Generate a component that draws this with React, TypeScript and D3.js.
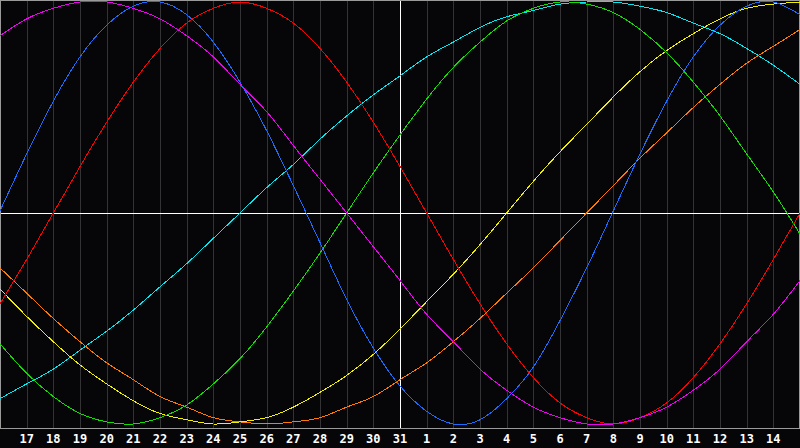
import React, { useEffect, useRef } from 'react';
import * as d3 from 'd3';

// days shown, from the 16th to the 15th of next month (today = 31)
const dayLabels = [
  '16', '17', '18', '19', '20', '21', '22', '23', '24', '25', '26', '27', '28', '29', '30', '31',
  '1', '2', '3', '4', '5', '6', '7', '8', '9', '10', '11', '12', '13', '14', '15',
];
const todayIndex = 15;

// values per day, -1 .. 1
const physical = [
  0.01, 0.28, 0.53, 0.74, 0.89, 0.98, 1.0, 0.94, 0.81, 0.62, 0.39, 0.13, -0.14, -0.41, -0.64, -0.82,
  -0.94, -1.0, -0.98, -0.88, -0.73, -0.51, -0.26, 0.01, 0.28, 0.53, 0.74, 0.89, 0.98, 1.0, 0.94,
];
const emotional = [
  -0.43, -0.22, 0.0, 0.22, 0.43, 0.62, 0.78, 0.9, 0.97, 1.0, 0.97, 0.9, 0.78, 0.62, 0.43, 0.22,
  0.0, -0.22, -0.43, -0.62, -0.78, -0.9, -0.97, -1.0, -0.97, -0.9, -0.78, -0.62, -0.43, -0.22, 0.0,
];
const intellectual = [
  -0.62, -0.76, -0.87, -0.95, -0.99, -1.0, -0.97, -0.91, -0.81, -0.69, -0.54, -0.37, -0.19, 0.0, 0.19, 0.37,
  0.54, 0.69, 0.81, 0.91, 0.97, 1.0, 0.99, 0.95, 0.87, 0.76, 0.62, 0.46, 0.28, 0.1, -0.1,
];
const intuitive = [
  0.84, 0.92, 0.97, 1.0, 1.0, 0.97, 0.92, 0.84, 0.74, 0.61, 0.48, 0.32, 0.16, 0.0, -0.16, -0.32,
  -0.48, -0.61, -0.74, -0.84, -0.92, -0.97, -1.0, -1.0, -0.97, -0.92, -0.84, -0.74, -0.61, -0.48, -0.32,
];
const aesthetic = [
  -0.36, -0.49, -0.61, -0.72, -0.81, -0.89, -0.95, -0.98, -1.0, -0.99, -0.97, -0.92, -0.85, -0.77, -0.67, -0.55,
  -0.42, -0.29, -0.15, 0.0, 0.15, 0.29, 0.42, 0.55, 0.67, 0.77, 0.85, 0.92, 0.97, 0.99, 1.0,
];
const awareness = [
  -0.26, -0.38, -0.5, -0.61, -0.71, -0.79, -0.87, -0.92, -0.97, -0.99, -1.0, -0.99, -0.97, -0.92, -0.87, -0.79,
  -0.71, -0.61, -0.5, -0.38, -0.26, -0.13, 0.0, 0.13, 0.26, 0.38, 0.5, 0.61, 0.71, 0.79, 0.87,
];
const spiritual = [
  -0.88, -0.81, -0.74, -0.65, -0.56, -0.46, -0.35, -0.24, -0.12, 0.0, 0.12, 0.23, 0.35, 0.46, 0.56, 0.65,
  0.74, 0.81, 0.88, 0.93, 0.96, 0.99, 1.0, 1.0, 0.98, 0.95, 0.9, 0.85, 0.78, 0.7, 0.61,
];

const seriesNames = ['Spiritual', 'Awareness', 'Aesthetic', 'Intellectual', 'Emotional', 'Intuitive', 'Physical'];
const seriesValues = [spiritual, awareness, aesthetic, intellectual, emotional, intuitive, physical];
const seriesColors = ['#00e8f0', '#ff7a00', '#f0f000', '#10e000', '#ff0000', '#f000f0', '#1a6cff'];

const W = 800;
const H = 448;

const BioChart: React.FC = () => {
  const svgRef = useRef<SVGSVGElement>(null);

  useEffect(() => {
    if (!svgRef.current) return;
    const svg = d3.select(svgRef.current);
    svg.selectAll('*').remove();

    const plotBottom = 428;

    const x = d3.scaleLinear().domain([0, dayLabels.length - 1]).range([0, W]);
    const y = d3.scaleLinear().domain([-1, 1]).range([424, 2]);

    svg.append('rect')
      .attr('width', W).attr('height', H)
      .attr('fill', '#060608');

    // day grid
    svg.append('g')
      .selectAll('line')
      .data(d3.range(1, dayLabels.length - 1))
      .enter()
      .append('line')
      .attr('x1', d => Math.round(x(d)) + 0.5)
      .attr('x2', d => Math.round(x(d)) + 0.5)
      .attr('y1', 0)
      .attr('y2', plotBottom)
      .attr('stroke', '#333336')
      .attr('stroke-width', 1)
      .attr('shape-rendering', 'crispEdges');

    // frame
    svg.append('rect')
      .attr('x', 0.5).attr('y', 0.5)
      .attr('width', W - 1).attr('height', plotBottom - 0.5)
      .attr('fill', 'none')
      .attr('stroke', '#9a9a9a')
      .attr('shape-rendering', 'crispEdges');

    // zero line + today
    svg.append('line')
      .attr('x1', 1).attr('x2', W - 1)
      .attr('y1', Math.round(y(0)) + 0.5).attr('y2', Math.round(y(0)) + 0.5)
      .attr('stroke', '#ffffff')
      .attr('shape-rendering', 'crispEdges');
    svg.append('line')
      .attr('x1', Math.round(x(todayIndex)) + 0.5).attr('x2', Math.round(x(todayIndex)) + 0.5)
      .attr('y1', 1).attr('y2', plotBottom)
      .attr('stroke', '#ffffff')
      .attr('shape-rendering', 'crispEdges');

    const line = d3.line<number>()
      .x((_, i) => x(i))
      .y(d => y(d))
      .curve(d3.curveNatural);

    svg.append('g')
      .selectAll('path')
      .data(seriesValues)
      .enter()
      .append('path')
      .attr('d', d => line(d) || '')
      .attr('fill', 'none')
      .attr('stroke', (_, i) => seriesColors[i])
      .attr('stroke-width', 1)
      .attr('shape-rendering', 'crispEdges')
      .append('title')
      .text((_, i) => seriesNames[i]);

    // day labels
    svg.append('g')
      .selectAll('text')
      .data(d3.range(1, dayLabels.length - 1))
      .enter()
      .append('text')
      .attr('x', d => x(d))
      .attr('y', 443)
      .attr('text-anchor', 'middle')
      .attr('fill', '#ffffff')
      .style('font-family', '"DejaVu Sans Mono", monospace')
      .style('font-size', '12px')
      .style('font-weight', 'bold')
      .text(d => dayLabels[d]);
  }, []);

  return (
    <svg
      ref={svgRef}
      width={W}
      height={H}
      viewBox={`0 0 ${W} ${H}`}
      style={{ position: 'absolute', left: 0, top: 0, display: 'block' }}
    />
  );
};

export default function App() {
  return <BioChart />;
}
